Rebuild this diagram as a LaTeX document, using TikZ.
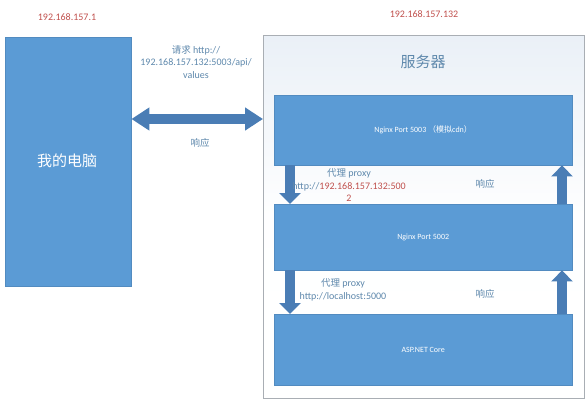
\documentclass[tikz,border=0pt]{standalone}
\usepackage{fontspec}
\setmainfont{Carlito}
\newfontfamily\cjk{Noto Sans CJK SC}
\usetikzlibrary{arrows.meta}
\definecolor{boxblue}{HTML}{5B9BD5}
\definecolor{arrowblue}{HTML}{4A7DB5}
\definecolor{ipred}{HTML}{C0504D}
\definecolor{labelblue}{HTML}{5E88AC}
\definecolor{srvborder}{HTML}{A9AEB4}
\definecolor{srvtop}{HTML}{EAF0F7}
\tikzset{
  bluebox/.style={fill=boxblue, draw=boxblue!90!black, line width=0.4pt, minimum width=#1, inner sep=0pt, text=white},
  iplabel/.style={text=ipred, font=\fontsize{10}{12}\selectfont},
  flowlabel/.style={text=labelblue, font=\fontsize{10}{12.5}\selectfont, align=center, inner sep=0pt},
  cjklabel/.style={text=labelblue, font=\cjk\fontsize{9.5}{11}\selectfont, inner sep=0pt},
  boxtext/.style={font=\fontsize{8}{10}\selectfont},
  bigarrow/.style={draw=arrowblue, line width=10pt, {Triangle[width=22pt,length=18pt]}-{Triangle[width=22pt,length=18pt]}},
  vertarrow/.style={draw=arrowblue, line width=10pt, -{Triangle[width=21pt,length=11pt]}},
}
\begin{document}
\begin{tikzpicture}[x=1pt,y=-1pt]
\useasboundingbox (0,0) rectangle (588,412);
% left computer box
\node[bluebox=126pt, minimum height=249pt, anchor=north west] (pc) at (5,37) {};
\node[text=white, font=\cjk\fontsize{15}{17}\selectfont] (pctext) at (67,161) {我的电脑};
% IP labels
\node[iplabel] (ip1) at (67,17) {192.168.157.1};
\node[iplabel] (ip2) at (424,14) {192.168.157.132};
% server container
\node[draw=srvborder, line width=0.6pt, top color=srvtop, bottom color=white, middle color=white!96!srvtop, minimum width=321pt, minimum height=363pt, anchor=north west, inner sep=0pt] (srv) at (263,35) {};
\node[text=labelblue, font=\cjk\fontsize{15}{17}\selectfont] (srvtitle) at (423,62) {服务器};
% inner boxes
\node[bluebox=298pt, minimum height=70pt, anchor=north west, boxtext] (b1) at (274,95) {Nginx Port 5003 {\cjk （模拟}cdn{\cjk ）}};
\node[bluebox=298pt, minimum height=66pt, anchor=north west, boxtext] (b2) at (274,204) {Nginx Port 5002};
\node[bluebox=298pt, minimum height=71pt, anchor=north west, boxtext] (b3) at (274,314) {ASP.NET Core};
% request / response arrow
\coordinate (ay) at (0,119);
\draw[bigarrow] (pc.east |- ay) -- (srv.west |- ay);
\node[flowlabel] (req) at (196,62) {{\cjk\fontsize{9.5}{12.5}\selectfont 请求} http://\\192.168.157.132:5003/api/\\values};
\node[cjklabel] (resp0) at (200,143) {响应};
% vertical arrows
\coordinate (dx) at (290,0);
\coordinate (ux) at (562,0);
\draw[vertarrow] (b1.south -| dx) -- (b2.north -| dx);
\draw[vertarrow] (b2.north -| ux) -- (b1.south -| ux);
\draw[vertarrow] (b2.south -| dx) -- (b3.north -| dx);
\draw[vertarrow] (b3.north -| ux) -- (b2.south -| ux);
% labels between boxes
\node[flowlabel] (proxy1) at (349,185.5) {{\cjk\fontsize{9.5}{12.5}\selectfont 代理} proxy\\http://\textcolor{ipred}{192.168.157.132:500}\\\textcolor{ipred}{2}};
\node[cjklabel] (resp1) at (485,184) {响应};
\node[flowlabel] (proxy2) at (343,290) {{\cjk\fontsize{9.5}{12.5}\selectfont 代理} proxy\\http://localhost:5000};
\node[cjklabel] (resp2) at (485,294) {响应};
\end{tikzpicture}
\end{document}
